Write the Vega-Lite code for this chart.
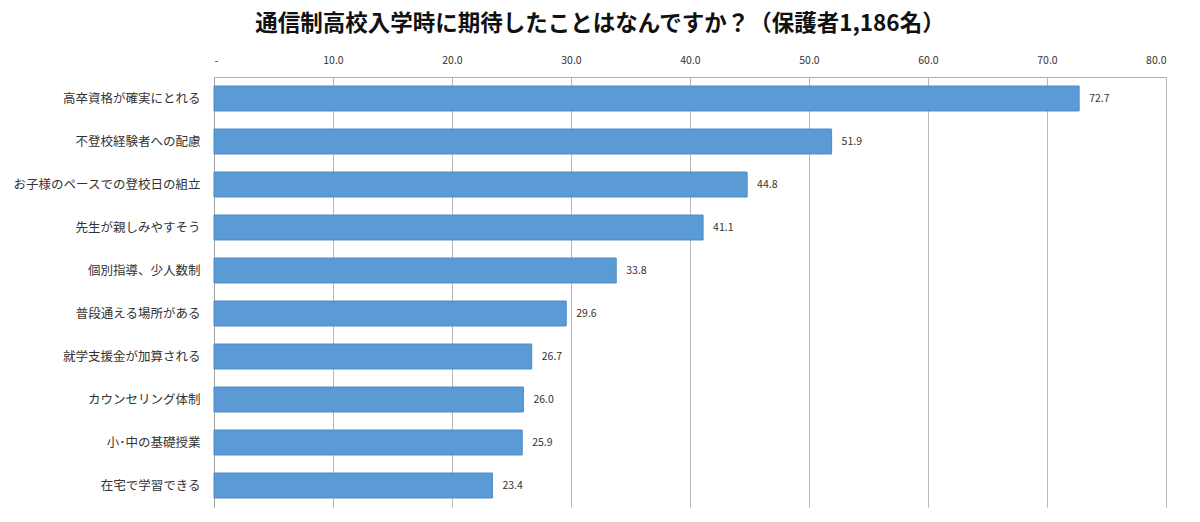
{
  "$schema": "https://vega.github.io/schema/vega-lite/v6.json",
  "autosize": {"type": "none"},
  "padding": {"left": 214, "top": 77, "right": 34, "bottom": 15},
  "width": 952,
  "height": 430,
  "background": "white",
  "title": {
    "text": "通信制高校入学時に期待したことはなんですか？（保護者1,186名）",
    "font": "Noto Sans CJK JP",
    "fontSize": 22.5,
    "fontWeight": "bold",
    "color": "#111111",
    "anchor": "middle",
    "dx": -90,
    "offset": 20
  },
  "data": {
    "values": [
      {"item": "高卒資格が確実にとれる", "pct": 72.7},
      {"item": "不登校経験者への配慮", "pct": 51.9},
      {"item": "お子様のペースでの登校日の組立", "pct": 44.8},
      {"item": "先生が親しみやすそう", "pct": 41.1},
      {"item": "個別指導、少人数制", "pct": 33.8},
      {"item": "普段通える場所がある", "pct": 29.6},
      {"item": "就学支援金が加算される", "pct": 26.7},
      {"item": "カウンセリング体制", "pct": 26.0},
      {"item": "小･中の基礎授業", "pct": 25.9},
      {"item": "在宅で学習できる", "pct": 23.4}
    ]
  },
  "config": {
    "view": {"stroke": null},
    "font": "Noto Sans CJK JP"
  },
  "encoding": {
    "y": {
      "field": "item",
      "type": "nominal",
      "sort": null,
      "scale": {"paddingInner": 0.42, "paddingOuter": 0.21},
      "axis": {
        "title": null,
        "ticks": false,
        "domain": true,
        "domainColor": "#a0a0a0",
        "labelFont": "Noto Sans CJK JP",
        "labelFontSize": 12.5,
        "labelColor": "#333333",
        "labelPadding": 14,
        "labelLimit": 220
      }
    },
    "x": {
      "field": "pct",
      "type": "quantitative",
      "scale": {"domain": [0, 80], "nice": false},
      "axis": {
        "orient": "top",
        "title": null,
        "values": [0, 10, 20, 30, 40, 50, 60, 70, 80],
        "labelExpr": "datum.value == 0 ? '-' : format(datum.value, '.1f')",
        "labelFont": "Noto Sans CJK JP",
        "labelFontSize": 10.5,
        "labelColor": "#333333",
        "labelPadding": 12,
        "ticks": false,
        "domain": true,
        "domainColor": "#b0b0b0",
        "grid": true,
        "gridColor": "#b8b8b8",
        "gridWidth": 1
      }
    }
  },
  "layer": [
    {
      "mark": {"type": "bar", "color": "#5b9bd5", "stroke": "#4a8cc8", "strokeWidth": 1}
    },
    {
      "mark": {"type": "text", "align": "left", "dx": 10, "fontSize": 10.5, "color": "#333333", "font": "Noto Sans CJK JP"},
      "encoding": {
        "text": {"field": "pct", "type": "quantitative", "format": ".1f"}
      }
    }
  ]
}
